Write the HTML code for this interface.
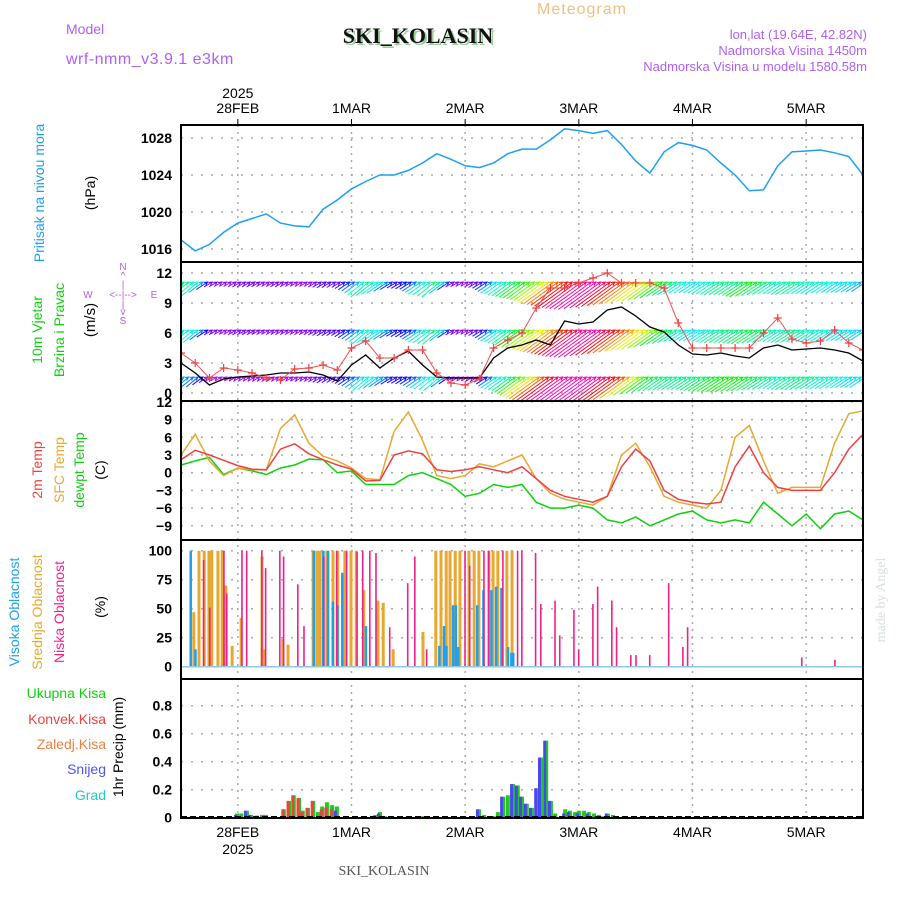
<!DOCTYPE html>
<html><head><meta charset="utf-8">
<style>
body{margin:0;background:#fff;}
svg{display:block;font-family:"Liberation Sans",sans-serif;}
</style></head>
<body>
<svg id="chart" width="900" height="900" viewBox="0 0 900 900" xmlns="http://www.w3.org/2000/svg">
<rect width="900" height="900" fill="#fff"/>
<text x="582" y="14" font-size="16" fill="#f0c080" text-anchor="middle" letter-spacing="1">Meteogram</text>
<text x="66" y="34" font-size="14" fill="#b060f0">Model</text>
<text x="66" y="64" font-size="16" fill="#b060f0" letter-spacing="0.5">wrf-nmm_v3.9.1 e3km</text>
<text x="418" y="43" font-size="22" font-weight="bold" font-family="Liberation Serif,serif" fill="#9c9" text-anchor="middle" transform="translate(2,2)">SKI_KOLASIN</text>
<text x="418" y="43" font-size="22" font-weight="bold" font-family="Liberation Serif,serif" fill="#111" text-anchor="middle">SKI_KOLASIN</text>
<text x="867" y="39" font-size="13" fill="#b060f0" text-anchor="end">lon,lat (19.64E, 42.82N)</text>
<text x="867" y="55" font-size="13" fill="#b060f0" text-anchor="end">Nadmorska Visina 1450m</text>
<text x="867" y="71" font-size="13" fill="#b060f0" text-anchor="end">Nadmorska Visina u modelu 1580.58m</text>

<text transform="translate(44,193) rotate(-90)" font-size="14" fill="#1ea0f0" text-anchor="middle">Pritisak na nivou mora</text>
<text transform="translate(95,193) rotate(-90)" font-size="14" fill="#000" text-anchor="middle">(hPa)</text>
<text transform="translate(42,330) rotate(-90)" font-size="14" fill="#10d010" text-anchor="middle">10m Vjetar</text>
<text transform="translate(64,330) rotate(-90)" font-size="14" fill="#10d010" text-anchor="middle">Brzina i Pravac</text>
<text transform="translate(95,320) rotate(-90)" font-size="15" fill="#000" text-anchor="middle">(m/s)</text>
<g font-size="10" fill="#b060f0" text-anchor="middle">
<text x="123" y="270">N</text><text x="123" y="279">^</text><text x="123" y="288">|</text>
<text x="88" y="298">W</text><text x="123" y="298">&lt;--|--&gt;</text><text x="154" y="298">E</text>
<text x="123" y="308">|</text><text x="123" y="315">v</text><text x="123" y="324">S</text>
</g>
<text transform="translate(42,470) rotate(-90)" font-size="14" fill="#f04040" text-anchor="middle">2m Temp</text>
<text transform="translate(64,470) rotate(-90)" font-size="14" fill="#e8a830" text-anchor="middle">SFC Temp</text>
<text transform="translate(84,470) rotate(-90)" font-size="14" fill="#10d010" text-anchor="middle">dewpt Temp</text>
<text transform="translate(105,470) rotate(-90)" font-size="14" fill="#000" text-anchor="middle">(C)</text>
<text transform="translate(19,612) rotate(-90)" font-size="14" fill="#1ea0f0" text-anchor="middle">Visoka Oblacnost</text>
<text transform="translate(42,612) rotate(-90)" font-size="14" fill="#e8a830" text-anchor="middle">Srednja Oblacnost</text>
<text transform="translate(64,612) rotate(-90)" font-size="14" fill="#f0208a" text-anchor="middle">Niska Oblacnost</text>
<text transform="translate(105,607) rotate(-90)" font-size="14" fill="#000" text-anchor="middle">(%)</text>
<g font-size="14" text-anchor="end">
<text x="106" y="698" fill="#10d010">Ukupna Kisa</text>
<text x="106" y="724" fill="#f04040">Konvek.Kisa</text>
<text x="106" y="749" fill="#f08040">Zaledj.Kisa</text>
<text x="106" y="774" fill="#5050f0">Snijeg</text>
<text x="106" y="800" fill="#20c8d0">Grad</text>
</g>
<text transform="translate(123,747) rotate(-90)" font-size="14" fill="#000" text-anchor="middle">1hr Precip (mm)</text>
<text transform="translate(885,600) rotate(-90)" font-size="14" fill="#d8e0d8" font-family="Liberation Serif,serif" text-anchor="middle">made by Angel</text>
<text x="384" y="875" font-size="14" fill="#555" font-family="Liberation Serif,serif" text-anchor="middle">SKI_KOLASIN</text>

<g id="grid"></g>
<g id="series"></g>
<g id="frames"></g>
<g id="labels" font-size="14" fill="#000"></g>
</svg>
<script>
// ---- data (3-hourly from 27FEB 12Z) ----
const dayLabels = ["28FEB","1MAR","2MAR","3MAR","4MAR","5MAR"];
const dayHours = [12,36,60,84,108,132];
const pressure = [1017,1015.8,1016.5,1017.8,1018.8,1019.3,1019.8,1018.8,1018.5,1018.4,1020.3,1021.3,1022.5,1023.3,1024,1024,1024.5,1025.3,1026.3,1025.7,1025,1024.8,1025.3,1026.3,1026.8,1026.8,1027.8,1029,1028.8,1028.5,1028.8,1027.3,1025.5,1024.2,1026.5,1027.5,1027.2,1026.7,1025.3,1024,1022.3,1022.4,1025,1026.5,1026.6,1026.7,1026.4,1026,1024];
const windSpeed = [3,2,0.8,1.4,1.6,1.7,1.8,2,2,2.1,1.8,1.2,2.8,3.8,2.5,3.5,4.2,2.8,1.6,1.5,1.5,1.5,3.5,4.5,4.8,5.3,4.8,7.2,6.9,7.1,8.3,8.6,7.7,6.6,6.1,4.8,3.9,3.8,4,3.7,3.5,4.5,4.8,4.3,4.4,4.5,4.3,4,3.2];
const windGust = [4,3,1.5,2.5,2.3,2,1.5,1.3,2.4,2.5,2.8,2.3,4.5,5.2,3.5,3.5,4.3,4.3,2,1,0.8,1.4,4.5,5.3,6,8.5,10.5,10.5,11,11.5,12,11,11,11,10.5,7,4.5,4.5,4.5,4.5,4.5,6,7.5,5.4,5,5.2,6.3,5,4.3];
const windRow1 = [6,5.5,2.5,2.2,2.5,2.5,2.3,2.5,2.2,2.3,2.8,2.6,4,6,5,3,3.5,5.5,6,2.5,2.2,3,5,6,7,8,9.5,10.5,11.5,12,11,10,9,8,6.5,5.5,5,5.5,6,6,7,6,5.5,6,5.5,5.5,5,5,4.5];
const windRow2 = [5.5,5,2.5,2.2,2.5,2.4,2.3,2.4,2.3,2.4,2.8,2.7,4,5.5,5,3.2,3.5,5.5,5.8,2.5,2.2,3,5,6,7.5,8.5,9.5,10.5,11.5,12,11,10,9,8,6.5,5.5,5,5.5,6,6,6.5,6,5.5,6,5.5,5.5,5,5,4.8];
const windRow3 = [4.5,4,2,2,2.2,2.2,2.3,2.2,2.2,2.3,2.8,2.6,4,5.5,4.5,3,3.5,5,5.5,2,2,2.5,5,6,8,9.5,11,12,12,12,11,10,8,6.5,6,6,6,6.5,7,7,6.5,6,5.5,6,6,5.5,5.5,5,5];
const windDirDeg = [40,40,30,30,30,30,30,30,30,30,32,32,35,40,35,30,32,35,40,30,30,32,35,36,36,36,36,36,36,36,36,36,36,36,35,33,33,33,33,33,33,33,33,33,33,33,33,33,33];
const temp2m = [2.2,3.8,3,2.1,1.2,0.6,0.5,4,4.9,3.2,2.2,1.3,0.6,-1.4,-1.3,3,3.7,3.2,0.5,0.2,0.5,1,0.5,0,1,-1,-3,-4,-4.5,-5,-4,1,4,2,-3,-4.5,-5,-5.3,-5,1,4.5,0,-2.5,-3,-3,-3,0,4,6.5];
const tempSfc = [3,6.5,2,-0.5,0.8,0.5,0.5,7.5,9.8,5,2.8,2,0.8,-1,-1.2,7,10.3,5.5,-0.5,-1,-0.5,1.5,1,2,3,-1,-3.5,-4.5,-5,-5.5,-4,3,5,1,-4,-5,-5.5,-6,-3,6,8,2,-3.5,-2.5,-2.5,-2.5,5,10,10.5];
const dewpt = [1.3,2,2.6,-0.3,0.8,0.3,-0.3,0.8,1.3,2.3,2.2,0,0.3,-2,-2,-2,-0.5,0,-1,-2,-4,-3.5,-2,-2.5,-2,-5,-6,-6,-5.5,-6,-8,-8.5,-7.5,-9,-8,-7,-6.5,-8,-8.5,-8,-8.5,-5,-7,-9,-7,-9.5,-7,-6.5,-8];
const highHours = [2,3,28,30,31,32,33,34,39,54.5,55.5,56,57.4,58,58.5,62.5,63.8,65.5,66.5,67.6,69,69.7,70.1];
const highVals  = [100,15,100,100,100,56,53,81,35,18,35,18,53,53,17,53,66,66,69,68,17,12,12];
const midHours = [2.7,3.8,4.9,5.9,6.5,7.8,8.7,9.5,10.8,12.7,17.1,17.5,21.5,22.6,27.9,28.7,29.3,30,30.8,32.1,33.1,34.6,35.9,37,38.6,41.6,42.7,44.8,51.1,53.8,54.9,56,56.8,57.9,58.9,60.8,61.9,62.9,65,65.9,66.9,68.8,69.9];
const midVals  = [47,100,100,100,100,100,100,70,18,42,95,15,24,19,100,100,100,100,100,100,100,100,100,100,66,57,55,15,30,100,100,100,100,100,100,100,100,100,100,100,100,100,100];
const lowHours = [4.6,5.9,8.9,9.5,12.7,13.7,16.9,17.7,20.7,21.5,24.5,25.8,30,32.7,34.8,37,38.2,39.7,41,43.9,47.7,49.2,51.7,59.8,60.8,63.8,64.8,67.8,70.9,71.8,74.7,75.8,78.8,79.8,82.8,83.8,86.8,87.8,90.8,91.8,94.8,95.9,98.8,102.8,105.8,106.8,130.9,137.9];
const lowVals  = [92,51,100,63,100,100,100,85,100,95,71,35,95,100,100,99,100,100,98,34,72,95,15,100,87,100,100,100,100,100,98,54,57,27,49,15,54,69,57,34,10,10,10,72,17,34,8,6];
const precipHours = [11.6,12.5,13.7,14.6,15.8,16.9,17.7,21.5,22.6,23.6,24.7,25.5,26.6,27.7,28.7,29.6,30.6,31.7,32.7,40.8,41.8,42.9,49.8,50.9,62.7,63.8,65.9,66.7,67.8,68.8,69.9,70.9,71.8,72.8,73.9,75,75.8,76.9,77.9,78.8,80.9,81.9,83,83.8,84.9,85.9,87,88,88.9,89.9,91];
const precipTotal = [0.03,0.03,0.05,0.02,0.015,0.02,0.02,0.06,0.12,0.16,0.14,0.05,0.07,0.12,0.04,0.08,0.11,0.09,0.08,0.02,0.04,0.01,0.01,0.01,0.06,0.02,0.01,0.04,0.15,0.16,0.24,0.23,0.15,0.1,0.07,0.21,0.43,0.55,0.12,0.03,0.06,0.05,0.04,0.05,0.05,0.04,0.03,0.02,0.01,0.03,0.02];
const precipConv  = [0,0,0,0,0,0,0,0.06,0.12,0.16,0.14,0.04,0.07,0.12,0,0.06,0.07,0.06,0,0,0,0,0,0,0,0,0,0,0,0,0,0,0,0,0,0,0,0,0,0,0,0,0.01,0,0,0,0,0,0,0,0];
const precipSnow  = [0.02,0,0.05,0.02,0,0,0,0,0,0,0,0,0,0,0,0,0,0,0.05,0,0.03,0,0,0,0.06,0,0.01,0,0.15,0,0.24,0.23,0.15,0.1,0.07,0.21,0.43,0.55,0.12,0,0.03,0.04,0,0.03,0,0.03,0,0,0,0.03,0];

const X0=181, X1=863, H=144;
const xs = h => X0 + h*(X1-X0)/H;
const yP = v => 249 - (v-1016)*111/12;
const yW = v => 393 - v*10;
const yT = v => 472.7 - v*5.9;
const yC = v => 666.7 - v*1.16;
const yR = v => 817.7 - v*140;
const NS="http://www.w3.org/2000/svg";
function mk(tag, attrs, parent){const e=document.createElementNS(NS,tag);for(const k in attrs)e.setAttribute(k,attrs[k]);parent.appendChild(e);return e;}
const grid=document.getElementById('grid'), ser=document.getElementById('series'), fr=document.getElementById('frames'), lab=document.getElementById('labels');

const panels=[[125,262],[262,401],[401,540],[540,679],[679,818]];
dayHours.forEach(h=>{
  const x=xs(h);
  const l=mk('line',{x1:x,x2:x,y1:125,y2:818,stroke:'#aaa','stroke-width':1.5,'stroke-dasharray':'2,5'},grid);
  
  
});
function hgrid(vals, yf, labelsTxt, nm){
  vals.forEach((v,i)=>{
    const y=yf(v);
    const l=mk('line',{x1:X0,x2:X1,y1:y,y2:y,stroke:'#aaa','stroke-width':1.5,'stroke-dasharray':'2,8'},grid);
    
    
    const t=mk('text',{x:172,y:y+5,'text-anchor':'end','font-weight':'bold'},lab);
    t.textContent=labelsTxt[i];
    
    
  });
}
const pTicks=[1016,1020,1024,1028];
const wTicks=[12,9,6,3,0];
const tTicks=[12,9,6,3,0,-3,-6,-9];
const cTicks=[100,75,50,25,0];
const rTicks=[0.8,0.6,0.4,0.2,0];
hgrid(pTicks,yP,pTicks.map(String),'pressure');
hgrid(wTicks,yW,wTicks.map(String),'wind');
hgrid(tTicks,yT,tTicks.map(v=>v<0?'\u2212'+(-v):String(v)),'temp');
hgrid(cTicks,yC,cTicks.map(String),'cloud');
hgrid(rTicks,yR,rTicks.map(v=>v===0?'0':v.toFixed(1)),'precip');

const defs=mk('defs',{},ser);
panels.forEach((p,i)=>{const c=mk('clipPath',{id:'clip'+i},defs);mk('rect',{x:X0,y:p[0],width:X1-X0,height:p[1]-p[0]},c);});

function line(arr, yf, color, nm, clip, w){
  const d=arr.map((v,i)=>(i?'L':'M')+xs(i*3).toFixed(1)+','+yf(v).toFixed(1)).join('');
  const p=mk('path',{d:d,fill:'none',stroke:color,'stroke-width':w||1.5,'clip-path':'url(#clip'+clip+')'},ser);
  
  
}
line(pressure,yP,'#1ea0f0','pressure-line',0);

const hueOf = s => ((300-(s-1.5)*33)%360+360)%360;
const rowTips=[11.1,6.3,1.6];
[windRow1,windRow2,windRow3].forEach((row,ri)=>{
  const g=mk('g',{'clip-path':'url(#clip1)'},ser);
  
  
  for(let hh=0;hh<=H;hh++){
    const k=Math.min(Math.floor(hh/3),47), f=(hh-k*3)/3;
    const s=row[k]*(1-f)+row[k+1]*f;
    const a=(windDirDeg[k]*(1-f)+windDirDeg[k+1]*f)*Math.PI/180;
    const x=xs(hh)+3, y=yW(rowTips[ri]);
    const L=s*3.9, tx=x-L*Math.cos(a), ty=y+L*Math.sin(a);
    const col='hsl('+hueOf(s).toFixed(0)+',95%,50%)';
    mk('path',{d:`M${tx.toFixed(1)},${ty.toFixed(1)}L${x.toFixed(1)},${y.toFixed(1)}M${(x-4).toFixed(1)},${(y+0.5).toFixed(1)}L${x},${y}L${(x-2).toFixed(1)},${(y+3.5).toFixed(1)}`,stroke:col,'stroke-width':1,fill:'none'},g);
  }
});
line(windSpeed,yW,'#000','wind-speed-line',1,1.3);
line(windGust,yW,'#f05050','wind-gust-line',1,1);
const gg=mk('g',{'clip-path':'url(#clip1)',stroke:'#f04040','stroke-width':1.2},ser);


windGust.forEach((v,i)=>{const x=xs(i*3),y=yW(v);mk('path',{d:`M${x-4},${y}H${x+4}M${x},${y-4}V${y+4}`},gg);});

line(dewpt,yT,'#10d010','dewpt-line',2);
line(tempSfc,yT,'#e8a830','sfc-temp-line',2);
line(temp2m,yT,'#f04040','temp-2m-line',2);

function bars(hours, vals, color, nm, dx, w){
  const g=mk('g',{fill:color,'clip-path':'url(#clip3)'},ser);
  
  
  hours.forEach((h,i)=>{const y=yC(vals[i]);mk('rect',{x:xs(h)+dx,y:y,width:w,height:yC(0)-y},g);});
}
bars(midHours,midVals,'#e8a830','mid-cloud-bars',-1.5,3);
bars(highHours,highVals,'#1ea0f0','high-cloud-bars',-1,2.5);
bars(lowHours,lowVals,'#f0208a','low-cloud-bars',0,1.6);
const zl=mk('line',{x1:X0,x2:X1,y1:yC(0),y2:yC(0),stroke:'#8cc8e8','stroke-width':1.5},ser);



function pbars(vals, color, nm, dx, w){
  const g=mk('g',{fill:color},ser);
  
  
  precipHours.forEach((h,i)=>{if(vals[i]<=0)return;const y=yR(vals[i]);mk('rect',{x:xs(h)+dx,y:y,width:w,height:yR(0)-y},g);});
}
pbars(precipTotal,'#20c820','precip-total-bars',-1,4);
pbars(precipConv,'#f04040','precip-convective-bars',-1.5,3);
pbars(precipSnow,'#4848f0','precip-snow-bars',-2,3);
const pz=mk('line',{x1:X0,x2:X1,y1:817,y2:817,stroke:'#000','stroke-width':2,'stroke-dasharray':'6,3'},ser);



panels.forEach((p,i)=>{
  const r=mk('rect',{x:X0,y:p[0],width:X1-X0,height:p[1]-p[0],fill:'none',stroke:'#000','stroke-width':2},fr);
  
  
});
dayHours.forEach((h,i)=>{
  const x=xs(h);
  const t=mk('text',{x:x,y:113,'text-anchor':'middle'},lab);
  t.textContent=dayLabels[i];
  
  
  const b=mk('text',{x:x,y:837,'text-anchor':'middle'},lab);
  b.textContent=dayLabels[i];
  
  
  mk('line',{x1:x,x2:x,y1:119,y2:125,stroke:'#000'},fr);
});
const y1=mk('text',{x:xs(12),y:98,'text-anchor':'middle'},lab);
y1.textContent='2025';


const y2=mk('text',{x:xs(12),y:854,'text-anchor':'middle'},lab);
y2.textContent='2025';


</script>
</body></html>
